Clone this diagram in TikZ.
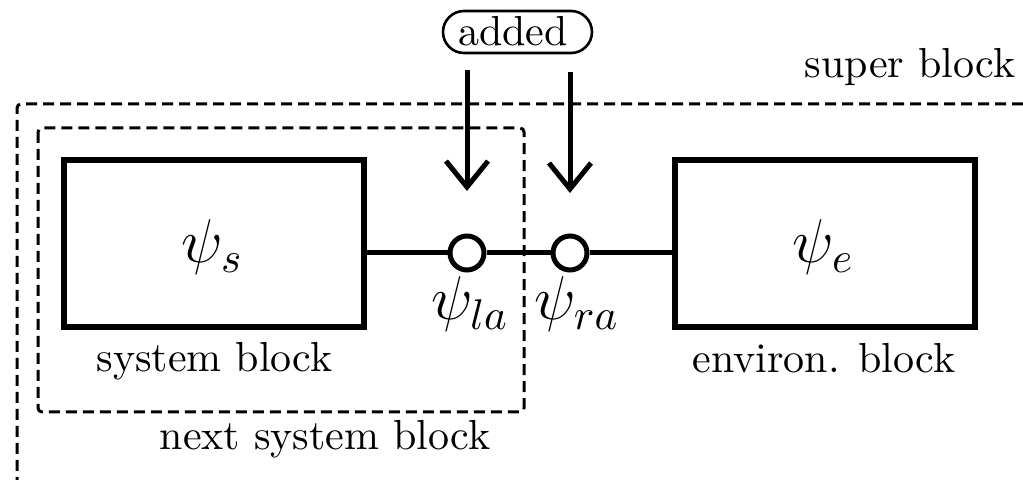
\documentclass[tikz,border=0pt]{standalone}
\usetikzlibrary{arrows.meta}
\begin{document}
\begin{tikzpicture}[x=0.5pt,y=-0.5pt,
  blockbox/.style={draw, line width=3pt, inner sep=0pt, minimum width=150pt, minimum height=83.5pt},
  port/.style={draw, circle, line width=2.5pt, fill=white, inner sep=0pt, minimum size=17pt},
  wire/.style={line width=2.5pt},
  feed/.style={line width=2.5pt, -{Straight Barb[length=13pt,width=21pt,line width=2.5pt]}},
  region/.style={line width=1.5pt, dash pattern=on 5.5pt off 3pt, rounded corners=2pt},
  lbl/.style={anchor=base, inner sep=0pt, font=\fontsize{10}{12}\selectfont, scale=2.1, transform shape},
  sym/.style={anchor=base, inner sep=0pt, font=\fontsize{14.4}{17}\selectfont, scale=2.15, transform shape},
  tag/.style={draw, line width=1.3pt, rounded corners=10.5pt, inner sep=0pt, minimum width=74.5pt, minimum height=21pt},
  tagtext/.style={inner sep=0pt, font=\fontsize{10}{12}\selectfont, scale=2.1, transform shape}
]
\useasboundingbox (0,0) rectangle (1023,480);
\clip (0,0) rectangle (1023,480);
% regions
\draw[region] (1040,104) -- (17,104) -- (17,500);
\draw[region] (38,128) rectangle (524,412);
% blocks
\node[blockbox] (sys) at (214,243.5) {};
\node[blockbox] (env) at (824.5,243.5) {};
\node[port] (la) at (467,253) {};
\node[port] (ra) at (570,253) {};
\draw[wire] (la -| sys.east) -- (la.west);
\draw[wire] (la.east) -- (ra.west);
\draw[wire] (ra.east) -- (ra -| env.west);
% added
\node[tag] (add) at (517.5,32) {};
\node[tagtext] (addt) at (513,31) {added};
\coordinate (a1s) at (467,70);
\coordinate (a1e) at (467,191);
\coordinate (a2s) at (570,72);
\coordinate (a2e) at (570,193);
\draw[feed] (a1s) -- (a1e);
\draw[feed] (a2s) -- (a2e);
% symbols
\node[sym] (ps) at (212.5,263) {$\psi_s$};
\node[sym] (pe) at (823.5,263) {$\psi_e$};
\node[sym] (pla) at (470,320) {$\psi_{la}$};
\node[sym] (pra) at (577,320) {$\psi_{ra}$};
% labels
\node[lbl] (tsys) at (214.5,372) {system block};
\node[lbl] (tenv) at (824,373) {environ. block};
\node[lbl] (tsup) at (910,78) {super block};
\node[lbl] (tnext) at (325,450) {next system block};
\end{tikzpicture}
\end{document}
